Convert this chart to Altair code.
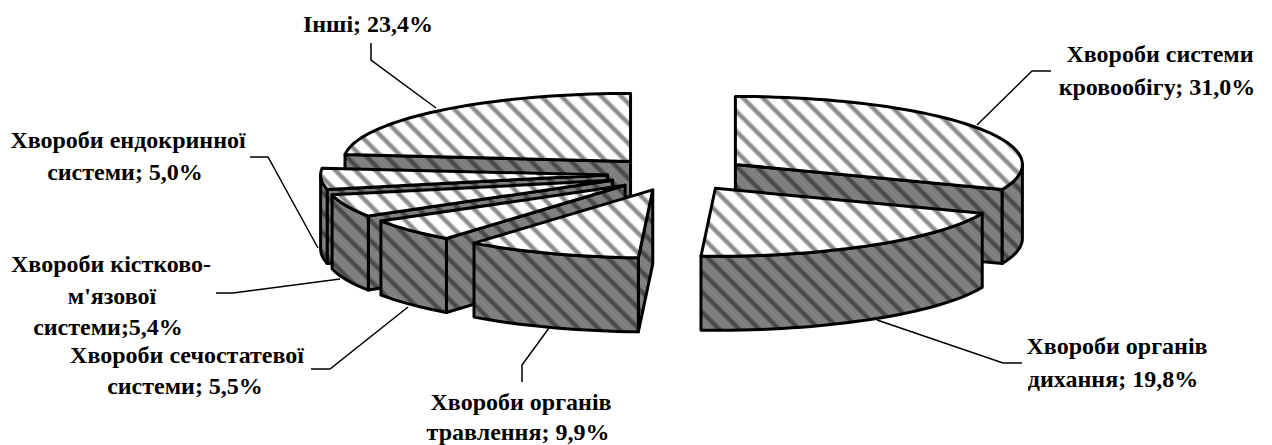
import math
import altair as alt
import pandas as pd

# Shares of each disease group, clockwise from twelve o'clock
shares = [31.0, 19.8, 9.9, 5.5, 5.4, 5.0, 23.4]
# Painter's order: back slices first, the front slices last
draw_order = [6, 0, 5, 4, 3, 2, 1]

# One row per text line: text, centre x, centre y
label_text = [
    "Інші; 23,4%",
    "Хвороби системи", "кровообігу; 31,0%",
    "Хвороби органів", "дихання; 19,8%",
    "Хвороби органів", "травлення; 9,9%",
    "Хвороби сечостатевої", "системи; 5,5%",
    "Хвороби кістково-", "м'язової", "системи;5,4%",
    "Хвороби ендокринної", "системи; 5,0%",
]
label_x = [368, 1160, 1157, 1117, 1113, 521, 518, 187, 185, 111, 112, 108, 128, 125]
label_y = [25, 55, 88, 347, 380, 403, 433, 356, 387, 265, 297, 328, 141, 173]

# Leader polylines as (x, y) vertices
leaders = [
    [(371, 43), (371, 60), (436, 108)],
    [(1051, 71), (1032, 71), (977, 125)],
    [(1022, 363), (1003, 363), (877, 320)],
    [(522, 382), (522, 365), (549, 328)],
    [(311, 369), (330, 369), (408, 307)],
    [(216, 293), (233, 293), (340, 279)],
    [(250, 157), (268, 157), (318, 248)],
]

# Projection of the tilted pie on the page
WIDTH, HEIGHT = 1272, 445
CX, CY = 677.5, 174
RX, RY = 287, 68
EXPLODE_X, EXPLODE_Y = 70, 17
DEPTH = 74
STRIPE_PERIOD = 20
STROKE = 3


def rim_point(cx, cy, deg):
    a = math.radians(deg)
    return (cx + RX * math.sin(a), cy - RY * math.cos(a))


def arc_points(cx, cy, a0, a1):
    n = max(2, int(abs(a1 - a0) / 2) + 1)
    return [rim_point(cx, cy, a0 + (a1 - a0) * i / (n - 1)) for i in range(n)]


def drop(points):
    return [(x, y + DEPTH) for x, y in points]


def stripes(points, base, stripe, shift):
    """Diagonal stripes as a gradient, phased on page position so they run on across faces."""
    xs = [p[0] for p in points]
    ys = [p[1] for p in points]
    w = max(max(xs) - min(xs), 1.0)
    h = max(max(ys) - min(ys), 1.0)
    a = (w + h) / (w * w + h * h)
    d_min = min(xs) - max(ys)
    d_span = w + h
    profile = [(0.0, base), (0.26, base), (0.43, stripe), (0.57, stripe), (0.74, base)]
    stops = []
    k = math.floor(d_min / STRIPE_PERIOD) - 1
    while k * STRIPE_PERIOD < d_min + d_span + STRIPE_PERIOD:
        for phase, colour in profile:
            t = ((k + phase) * STRIPE_PERIOD + shift - d_min) / d_span
            stops.append(alt.GradientStop(color=colour, offset=min(max(t, 0.0), 1.0)))
        k += 1
    return alt.LinearGradient(
        gradient="linear", stops=stops,
        x1=0, y1=1, x2=a * w, y2=1 - a * h,
    )


def face(points, base, stripe, shift):
    feature = {
        "type": "Feature",
        "properties": {},
        "geometry": {
            "type": "Polygon",
            "coordinates": [[list(p) for p in points] + [list(points[0])]],
        },
    }
    return (
        alt.Chart(alt.Data(values=[feature]))
        .mark_geoshape(
            fill=stripes(points, base, stripe, shift),
            stroke="black",
            strokeWidth=STROKE,
            strokeJoin="round",
        )
        .project(type="identity", scale=1, translate=[0, 0])
    )


def slice_layers(start, end):
    mid = math.radians((start + end) / 2)
    cx = CX + EXPLODE_X * math.sin(mid)
    cy = CY - EXPLODE_Y * math.cos(mid)
    side = ("#808080", "#484848", 0)
    top = ("#ffffff", "#8a8a8a", -5)
    out = []
    # Radial walls seen from the front
    if math.sin(math.radians(start)) < -1e-6:
        wall = [(cx, cy), rim_point(cx, cy, start)]
        out.append(face(wall + drop(wall)[::-1], *side))
    if math.sin(math.radians(end)) > 1e-6:
        wall = [(cx, cy), rim_point(cx, cy, end)]
        out.append(face(wall + drop(wall)[::-1], *side))
    # Outer wall, only the stretch that faces the viewer
    lo, hi = max(start, 90), min(end, 270)
    if hi > lo:
        rim = arc_points(cx, cy, lo, hi)
        out.append(face(rim + drop(rim)[::-1], *side))
    # Top face
    out.append(face([(cx, cy)] + arc_points(cx, cy, start, end), *top))
    return out


x_scale = alt.Scale(domain=[0, WIDTH], nice=False, zero=False)
y_scale = alt.Scale(domain=[0, HEIGHT], nice=False, zero=False, reverse=True)

leader_rows = pd.DataFrame(
    [
        {"leader": i, "step": j, "x": x, "y": y}
        for i, line in enumerate(leaders)
        for j, (x, y) in enumerate(line)
    ]
)
leader_layer = (
    alt.Chart(leader_rows)
    .mark_line(color="black", strokeWidth=1.5)
    .encode(
        x=alt.X("x:Q", scale=x_scale, axis=None),
        y=alt.Y("y:Q", scale=y_scale, axis=None),
        detail="leader:N",
        order="step:Q",
    )
)

text_layer = (
    alt.Chart(pd.DataFrame({"text": label_text, "x": label_x, "y": label_y}))
    .mark_text(
        font="Liberation Serif",
        fontWeight="bold",
        fontSize=24,
        color="black",
        align="center",
        baseline="middle",
    )
    .encode(
        x=alt.X("x:Q", scale=x_scale, axis=None),
        y=alt.Y("y:Q", scale=y_scale, axis=None),
        text="text:N",
    )
)

bounds = [0.0]
for share in shares:
    bounds.append(bounds[-1] + share * 3.6)

layers = [leader_layer]
for idx in draw_order:
    layers.extend(slice_layers(bounds[idx], bounds[idx + 1]))
layers.append(text_layer)

chart = (
    alt.layer(*layers)
    .properties(width=WIDTH, height=HEIGHT, padding=0, autosize=alt.AutoSizeParams(type="none"))
    .configure_view(stroke=None)
)

chart.save("out.html", embed_options={"renderer": "svg", "actions": False})
